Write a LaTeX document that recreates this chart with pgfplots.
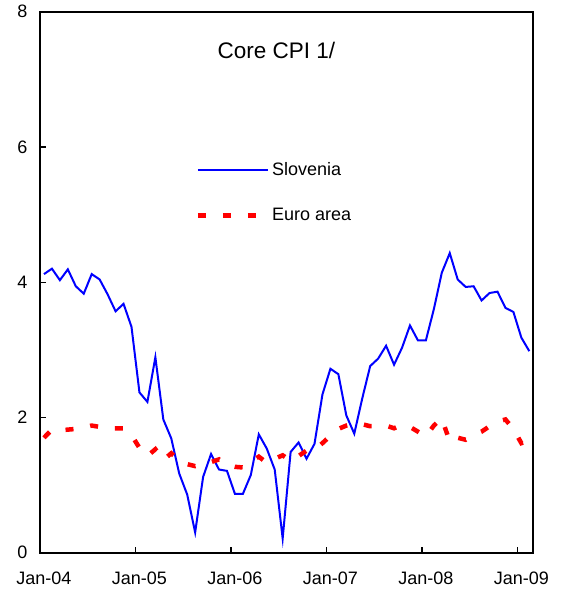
\documentclass[border=0pt]{standalone}
\usepackage{fontspec}
\setmainfont{Liberation Sans}
\usepackage{pgfplots}
\pgfplotsset{compat=1.18}

% monthly data, Jan-04 = 0
\pgfplotstableread{
m   v
0   4.12
1   4.20
2   4.03
3   4.19
4   3.94
5   3.83
6   4.12
7   4.04
8   3.82
9   3.57
10  3.68
11  3.34
12  2.37
13  2.23
14  2.89
15  1.97
16  1.69
17  1.17
18  0.86
19  0.30
20  1.12
21  1.46
22  1.23
23  1.21
24  0.87
25  0.87
26  1.15
27  1.75
28  1.54
29  1.23
30  0.21
31  1.49
32  1.63
33  1.39
34  1.61
35  2.34
36  2.72
37  2.64
38  2.03
39  1.76
40  2.28
41  2.76
42  2.87
43  3.06
44  2.78
45  3.03
46  3.36
47  3.14
48  3.14
49  3.60
50  4.14
51  4.43
52  4.04
53  3.93
54  3.94
55  3.73
56  3.84
57  3.86
58  3.62
59  3.56
60  3.18
61  2.98
}\slovenia

\pgfplotstableread{
m   v
0   1.70
1   1.82
2   1.81
3   1.82
4   1.83
5   1.85
6   1.88
7   1.86
8   1.84
9   1.84
10  1.84
11  1.74
12  1.55
13  1.43
14  1.53
15  1.37
16  1.47
17  1.36
18  1.31
19  1.28
20  1.31
21  1.34
22  1.38
23  1.30
24  1.27
25  1.26
26  1.35
27  1.42
28  1.33
29  1.39
30  1.44
31  1.36
32  1.43
33  1.51
34  1.52
35  1.62
36  1.73
37  1.83
38  1.88
39  1.91
40  1.90
41  1.87
42  1.87
43  1.88
44  1.84
45  1.89
46  1.86
47  1.79
48  1.72
49  1.88
50  1.99
51  1.64
52  1.70
53  1.67
54  1.74
55  1.79
56  1.87
57  1.94
58  1.97
59  1.83
60  1.62
61  1.66
}\euro

\begin{document}
\begin{tikzpicture}
\begin{axis}[
    name=main,
    scale only axis,
    width=493.3bp, height=541bp,
    xmin=-0.5, xmax=61.5,
    ymin=0, ymax=8,
    axis line style={line width=1.6bp},
    tick style={line width=1.3bp, black},
    major tick length=6bp,
    tick align=inside, tick pos=left,
    xtick={-0.5,11.5,23.5,35.5,47.5,59.5},
    xticklabels={Jan-04,Jan-05,Jan-06,Jan-07,Jan-08,Jan-09},
    ytick={0,2,4,6,8},
    ticklabel style={font=\fontsize{18bp}{21bp}\selectfont},
    /pgf/number format/assume math mode=true,
    xticklabel style={yshift=-16bp, xshift=4bp},
    yticklabel style={xshift=-9bp},
    legend style={at={(0.315,0.6658)}, anchor=west, draw=none, fill=none,
        inner sep=0pt, row sep=27bp,
        font=\fontsize{18bp}{21bp}\selectfont},
    legend cell align=left,
    legend image code/.code={\draw[#1] (0bp,0bp) -- (70bp,0bp);},
]
\addplot[draw={rgb,255:red,0;green,0;blue,255}, line width=2bp] table[x=m,y=v] {\slovenia};
\addlegendentry{Slovenia}
\addplot[draw={rgb,255:red,255;green,0;blue,0}, line width=4.5bp, dash pattern=on 8bp off 17bp] table[x=m,y=v] {\euro};
\addlegendentry{Euro area}
\node[font=\fontsize{22.5bp}{27bp}\selectfont] at (rel axis cs:0.479,0.929) {Core CPI 1/};
\end{axis}
\pgfresetboundingbox
\path ([shift={(-40bp,-42.3bp)}]main.south west) rectangle ([shift={(521bp,552.7bp)}]main.south west);
\end{tikzpicture}
\end{document}
